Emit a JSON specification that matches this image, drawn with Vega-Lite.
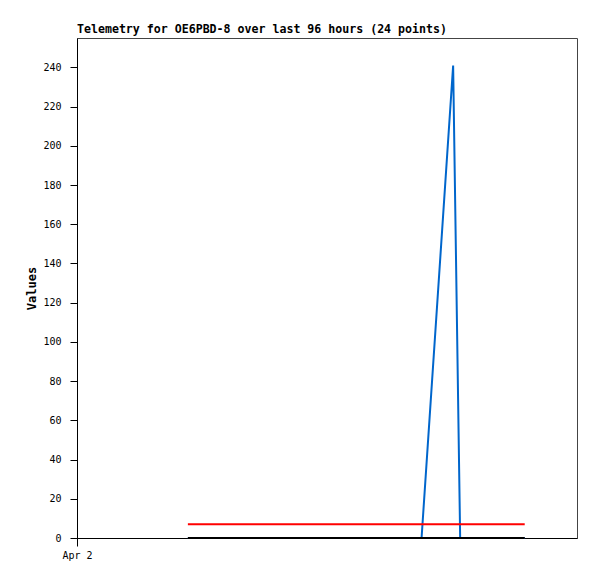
{
  "$schema": "https://vega.github.io/schema/vega-lite/v6.json",
  "width": 500,
  "height": 500,
  "autosize": {"type": "none"},
  "padding": {"left": 77, "top": 38, "right": 20, "bottom": 41},
  "background": "white",
  "title": {
    "text": "Telemetry for OE6PBD-8 over last 96 hours (24 points)",
    "anchor": "start",
    "frame": "group",
    "font": "DejaVu Sans Mono",
    "fontSize": 11.6,
    "fontWeight": "bold",
    "color": "#000000",
    "offset": 2
  },
  "config": {
    "view": {"stroke": "#444444", "strokeWidth": 1},
    "axis": {
      "labelFont": "DejaVu Sans Mono",
      "labelFontSize": 10,
      "labelColor": "#000000",
      "titleFont": "DejaVu Sans Mono",
      "titleFontSize": 12,
      "titleFontWeight": "bold",
      "titleColor": "#000000",
      "domainColor": "#000000",
      "tickColor": "#000000",
      "tickWidth": 1,
      "grid": false
    }
  },
  "data": {
    "values": [
      {"series": "ch1", "time": "2024-04-03T07:36:00", "value": 0},
      {"series": "ch1", "time": "2024-04-06T02:12:00", "value": 0},
      {"series": "ch1", "time": "2024-04-06T11:12:00", "value": 241},
      {"series": "ch1", "time": "2024-04-06T13:12:00", "value": 0},
      {"series": "ch1", "time": "2024-04-07T07:36:00", "value": 0},
      {"series": "ch2", "time": "2024-04-03T07:36:00", "value": 7},
      {"series": "ch2", "time": "2024-04-07T07:36:00", "value": 7},
      {"series": "ch3", "time": "2024-04-03T07:36:00", "value": 0},
      {"series": "ch3", "time": "2024-04-07T07:36:00", "value": 0}
    ]
  },
  "encoding": {
    "x": {
      "field": "time",
      "type": "temporal",
      "scale": {"domain": [{"year": 2024, "month": 4, "date": 2}, {"year": 2024, "month": 4, "date": 7, "hours": 22, "minutes": 30}]},
      "axis": {
        "title": null,
        "values": [{"year": 2024, "month": 4, "date": 2}],
        "format": "%b %-d",
        "tickSize": 8,
        "labelPadding": 4,
        "labelFlush": false,
        "labelAlign": "center"
      }
    },
    "y": {
      "field": "value",
      "type": "quantitative",
      "scale": {"domain": [0, 255], "nice": false},
      "axis": {
        "title": "Values",
        "values": [0, 20, 40, 60, 80, 100, 120, 140, 160, 180, 200, 220, 240],
        "tickSize": 7,
        "labelPadding": 9,
        "titlePadding": 4
      }
    }
  },
  "layer": [
    {
      "transform": [{"filter": "datum.series === 'ch1'"}],
      "mark": {"type": "line", "color": "#0066cc", "strokeWidth": 2}
    },
    {
      "transform": [{"filter": "datum.series === 'ch2'"}],
      "mark": {"type": "line", "color": "#ff0000", "strokeWidth": 2}
    },
    {
      "transform": [{"filter": "datum.series === 'ch3'"}],
      "mark": {"type": "line", "color": "#000000", "strokeWidth": 2}
    }
  ]
}
